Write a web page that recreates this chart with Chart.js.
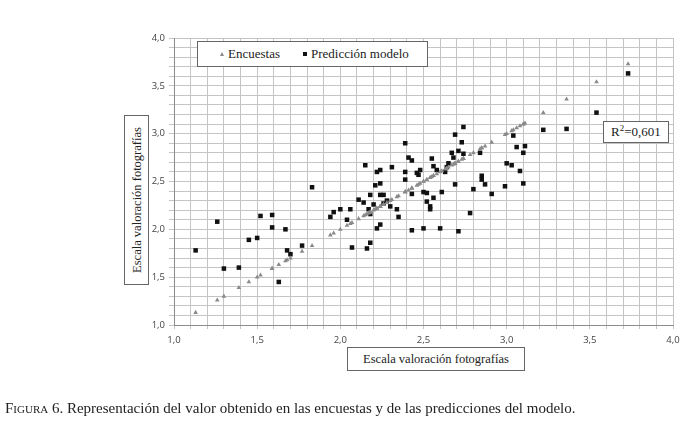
<!DOCTYPE html>
<html>
<head>
<meta charset="utf-8">
<script src="https://cdn.jsdelivr.net/npm/chart.js@4.4.0/dist/chart.umd.min.js"></script>
<style>
  body { margin: 0; background: #fff; }
  #wrap { position: relative; width: 695px; height: 428px; }
  .box { position: absolute; background: #fff; border: 1px solid #666; box-sizing: border-box;
         font-family: "Liberation Serif", "DejaVu Serif", serif; color: #222; }
  #legend { left: 197px; top: 41px; width: 231px; height: 26px; font-size: 13px; line-height: 24px; }
  #legend span { position: absolute; top: 0; }
  .tri { position: absolute; top: 10px; width: 0; height: 0; border-left: 2.5px solid transparent;
         border-right: 2.5px solid transparent; border-bottom: 4px solid #888; }
  .sq { position: absolute; top: 10px; width: 4px; height: 4px; background: #111; }
  #r2 { left: 603px; top: 121px; width: 66px; height: 22px; font-size: 13px; line-height: 20px; text-align: center; }
  #ytitle { left: 124px; top: 115px; width: 25px; height: 170px; font-size: 12.5px; }
  #ytitle div { position: absolute; left: 50%; top: 50%; white-space: nowrap;
                transform: translate(-50%, -50%) rotate(-90deg); }
  #xtitle { left: 347px; top: 347px; width: 178px; height: 24px; font-size: 12.5px; line-height: 22px; text-align: center; }
  #caption { position: absolute; left: 5px; top: 400px; font-family: "Liberation Serif", serif; font-size: 15px;
             color: #222; white-space: nowrap; }
  #caption .sc { font-variant: small-caps; }
</style>
</head>
<body>
<div id="wrap">
  <canvas id="scatterChart" width="695" height="428"></canvas>
  <div class="box" id="legend">
    <i class="tri" style="left:22px"></i><span style="left:30px">Encuestas</span>
    <i class="sq" style="left:105px"></i><span style="left:113px">Predicción modelo</span>
  </div>
  <div class="box" id="r2">R<sup style="font-size:9px;line-height:0">2</sup>=0,601</div>
  <div class="box" id="ytitle"><div>Escala valoración fotografías</div></div>
  <div class="box" id="xtitle">Escala valoración fotografías</div>
  <div id="caption"><span class="sc">Figura</span> 6. Representación del valor obtenido en las encuestas y de las predicciones del modelo.</div>
</div>
<script>
// valor de la encuesta (eje x, y tambien y de la serie Encuestas)
const encuestas = [
  1.13, 1.26, 1.30, 1.39, 1.45, 1.50, 1.52, 1.59, 1.59, 1.63,
  1.67, 1.68, 1.70, 1.77, 1.83, 1.94, 1.96, 2.00, 2.04, 2.06,
  2.07, 2.11, 2.14, 2.15, 2.16, 2.17, 2.18, 2.18, 2.18, 2.20,
  2.21, 2.22, 2.22, 2.24, 2.24, 2.24, 2.24, 2.26, 2.26, 2.28,
  2.30, 2.31, 2.34, 2.35, 2.39, 2.39, 2.39, 2.41, 2.43, 2.43,
  2.43, 2.46, 2.47, 2.48, 2.50, 2.50, 2.52, 2.52, 2.54, 2.54,
  2.55, 2.56, 2.56, 2.58, 2.60, 2.61, 2.63, 2.64, 2.65, 2.67,
  2.68, 2.69, 2.69, 2.71, 2.71, 2.73, 2.74, 2.74, 2.78, 2.80,
  2.84, 2.85, 2.85, 2.87, 2.91, 2.99, 3.00, 3.03, 3.04, 3.06,
  3.08, 3.10, 3.11, 3.10, 3.22, 3.36, 3.54, 3.73
];
// prediccion del modelo para cada fotografia
const prediccion = [
  1.78, 2.08, 1.59, 1.60, 1.89, 1.91, 2.14, 2.15, 2.02, 1.45,
  2.00, 1.78, 1.74, 1.83, 2.44, 2.13, 2.18, 2.21, 2.10, 2.21,
  1.81, 2.31, 2.28, 2.67, 1.80, 2.21, 2.36, 2.16, 1.86, 2.26,
  2.46, 2.60, 2.01, 2.62, 2.48, 2.36, 2.05, 2.36, 2.27, 2.30,
  2.24, 2.65, 2.21, 2.13, 2.90, 2.60, 2.52, 2.75, 2.72, 2.37,
  1.99, 2.59, 2.57, 2.62, 2.39, 2.01, 2.38, 2.29, 2.24, 2.21,
  2.74, 2.66, 2.33, 2.62, 2.01, 2.39, 2.60, 2.65, 2.69, 2.80,
  2.75, 2.99, 2.47, 2.82, 1.98, 2.91, 3.07, 2.79, 2.17, 2.42,
  2.80, 2.56, 2.52, 2.47, 2.37, 2.45, 2.69, 2.67, 2.98, 2.86,
  2.61, 2.80, 2.87, 2.48, 3.04, 3.05, 3.22, 3.63
];
const axisMin = 1.0;
const axisMax = 4.0;

const puntosEncuesta = encuestas.map(v => ({ x: v, y: v }));
const puntosModelo = encuestas.map((v, i) => ({ x: v, y: prediccion[i] }));

function tickLabel(v) {
  if (Math.abs(v * 2 - Math.round(v * 2)) < 1e-6) return v.toFixed(1).replace('.', ',');
  return '';
}

const tickFont = { family: "'Open Sans', 'Liberation Sans', sans-serif", size: 9.5 };

new Chart(document.getElementById('scatterChart').getContext('2d'), {
  type: 'scatter',
  data: {
    datasets: [
      {
        label: 'Encuestas',
        data: puntosEncuesta,
        pointStyle: 'triangle',
        pointRadius: 2.7,
        backgroundColor: '#8a8a8a',
        borderWidth: 0
      },
      {
        label: 'Predicción modelo',
        data: puntosModelo,
        pointStyle: 'rect',
        pointRadius: 3.2,
        backgroundColor: '#111',
        borderWidth: 0
      }
    ]
  },
  options: {
    responsive: false,
    animation: false,
    layout: { padding: { top: 38, right: 22, left: 0, bottom: 0 } },
    plugins: { legend: { display: false }, tooltip: { enabled: false } },
    scales: {
      x: {
        min: axisMin, max: axisMax,
        afterFit: scale => { scale.height = 103; },
        grid: { color: '#c4c4c4', lineWidth: 1, tickLength: 4 },
        border: { color: '#8c8c8c' },
        ticks: { stepSize: 0.1, autoSkip: false, maxRotation: 0, padding: 6,
                 color: '#444', font: tickFont, callback: tickLabel }
      },
      y: {
        min: axisMin, max: axisMax,
        afterFit: scale => { scale.width = 174; },
        grid: { color: '#c4c4c4', lineWidth: 1, tickLength: 5 },
        border: { color: '#8c8c8c' },
        ticks: { stepSize: 0.1, autoSkip: false, padding: 4,
                 color: '#444', font: tickFont, callback: tickLabel }
      }
    }
  }
});
</script>
</body>
</html>
